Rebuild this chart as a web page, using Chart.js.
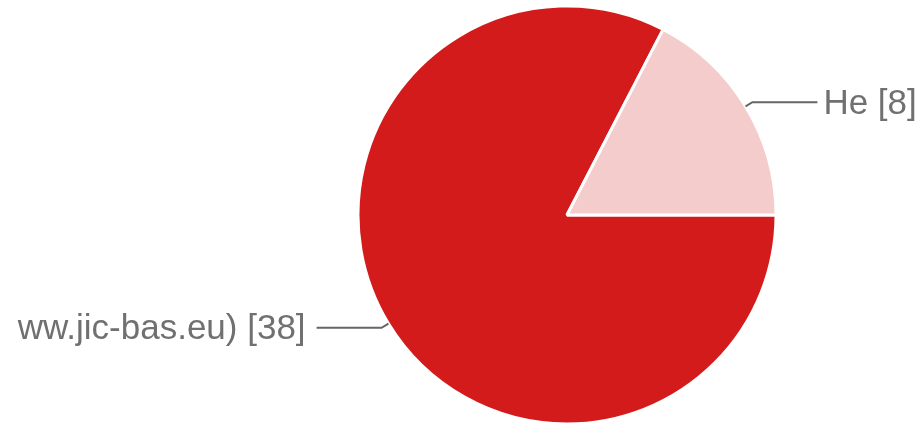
<!DOCTYPE html>
<html>
<head>
<meta charset="utf-8">
<style>
  html, body { margin: 0; padding: 0; background: #ffffff; overflow: hidden; }
  #wrap { width: 918px; height: 424px; }
</style>
<script src="https://cdn.jsdelivr.net/npm/chart.js@4/dist/chart.umd.min.js"></script>
</head>
<body>
<div id="wrap"><canvas id="c" width="918" height="424"></canvas></div>
<script>
const categories = ['ww.jic-bas.eu)', 'He'];
const values = [38, 8];
const sliceColors = ['#d31b1c', '#f4cccc'];

const leaderLabels = {
  id: 'leaderLabels',
  afterDatasetsDraw(chart) {
    const ctx = chart.ctx;
    const meta = chart.getDatasetMeta(0);
    ctx.save();
    ctx.font = '35px "Liberation Sans", Arial, sans-serif';
    ctx.textBaseline = 'middle';
    meta.data.forEach((arc, i) => {
      const p = arc.getProps(['x', 'y', 'startAngle', 'endAngle', 'outerRadius'], true);
      const mid = (p.startAngle + p.endAngle) / 2;
      const cos = Math.cos(mid), sin = Math.sin(mid);
      const x0 = p.x + cos * p.outerRadius;
      const y0 = p.y + sin * p.outerRadius;
      const x1 = p.x + cos * (p.outerRadius + 8);
      const y1 = p.y + sin * (p.outerRadius + 8);
      const right = cos >= 0;
      const x2 = x1 + (right ? 65 : -65);
      ctx.strokeStyle = '#666666';
      ctx.lineWidth = 2;
      ctx.beginPath();
      ctx.moveTo(x0, y0);
      ctx.lineTo(x1, y1);
      ctx.lineTo(x2, y1);
      ctx.stroke();
      ctx.fillStyle = '#707070';
      ctx.textAlign = right ? 'left' : 'right';
      const txt = categories[i] + ' [' + values[i] + ']';
      ctx.fillText(txt, x2 + (right ? 6 : -11), y1 + 2);
    });
    ctx.restore();
  }
};

new Chart(document.getElementById('c'), {
  type: 'pie',
  data: {
    labels: categories,
    datasets: [{
      data: values,
      backgroundColor: sliceColors,
      borderColor: '#ffffff',
      borderWidth: 3,
      radius: 209
    }]
  },
  options: {
    responsive: false,
    devicePixelRatio: 1,
    animation: false,
    rotation: 90,
    layout: { padding: { left: 358, right: 142, top: 6, bottom: 0 } },
    plugins: {
      legend: { display: false },
      tooltip: { enabled: false }
    }
  },
  plugins: [leaderLabels]
});
</script>
</body>
</html>
